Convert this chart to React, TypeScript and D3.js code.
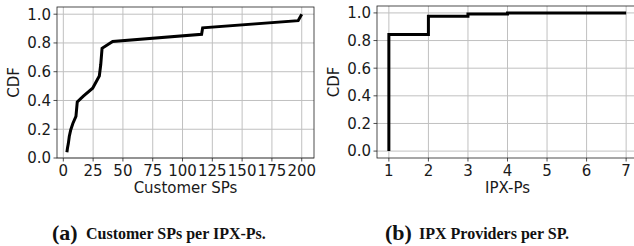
import { useEffect, useRef } from "react";
import * as d3 from "d3";

// (a) Customer SPs per IPX-P: points of the CDF curve
const spCounts = [3, 3.5, 4.2, 5, 6.2, 8, 10.6, 11.7, 16.8, 24.6, 30.2, 31.4, 32.5, 41.4, 116, 116.9, 197, 200];
const spCdf = [0.04, 0.07, 0.1, 0.15, 0.195, 0.24, 0.29, 0.39, 0.43, 0.485, 0.57, 0.65, 0.763, 0.81, 0.86, 0.905, 0.955, 1.0];
const spTicks = [0, 25, 50, 75, 100, 125, 150, 175, 200];

// (b) IPX providers per SP: step CDF
const ipxCounts = [1, 2, 3, 4, 7];
const ipxCdf = [0.843, 0.975, 0.992, 1.0, 1.0];
const ipxTicks = [1, 2, 3, 4, 5, 6, 7];

const cdfTicks = [0, 0.2, 0.4, 0.6, 0.8, 1.0];

const FONT = "DejaVu Sans, sans-serif";
const FS = 15;

type Panel = {
  left: number; right: number; top: number; bottom: number;
  xDomain: [number, number]; yDomain: [number, number];
  xTicks: number[]; xLabel: string;
  pts: [number, number][];
};

function drawPanel(svg: d3.Selection<SVGSVGElement, unknown, null, undefined>, p: Panel) {
  const x = d3.scaleLinear().domain(p.xDomain).range([p.left, p.right]);
  const y = d3.scaleLinear().domain(p.yDomain).range([p.bottom, p.top]);
  const g = svg.append("g");

  // grid
  g.selectAll("line.gx").data(p.xTicks).join("line")
    .attr("x1", (d) => x(d)).attr("x2", (d) => x(d)).attr("y1", p.top).attr("y2", p.bottom)
    .attr("stroke", "#c0c0c0").attr("stroke-width", 1);
  g.selectAll("line.gy").data(cdfTicks).join("line")
    .attr("x1", p.left).attr("x2", p.right).attr("y1", (d) => y(d)).attr("y2", (d) => y(d))
    .attr("stroke", "#c0c0c0").attr("stroke-width", 1);

  // curve
  g.append("path").datum(p.pts)
    .attr("d", d3.line<[number, number]>().x((d) => x(d[0])).y((d) => y(d[1])))
    .attr("fill", "none").attr("stroke", "#000").attr("stroke-width", 3).attr("stroke-linejoin", "miter");

  // spines
  g.append("rect").attr("x", p.left).attr("y", p.top).attr("width", p.right - p.left).attr("height", p.bottom - p.top)
    .attr("fill", "none").attr("stroke", "#222").attr("stroke-width", 0.8);

  // ticks + labels
  g.selectAll("line.tx").data(p.xTicks).join("line")
    .attr("x1", (d) => x(d)).attr("x2", (d) => x(d)).attr("y1", p.bottom).attr("y2", p.bottom + 3.5)
    .attr("stroke", "#222").attr("stroke-width", 0.8);
  g.selectAll("text.tx").data(p.xTicks).join("text")
    .attr("x", (d) => x(d)).attr("y", p.bottom + 18).attr("text-anchor", "middle")
    .attr("font-family", FONT).attr("font-size", FS).attr("fill", "#1a1a1a").text((d) => String(d));
  g.selectAll("line.ty").data(cdfTicks).join("line")
    .attr("x1", p.left - 3.5).attr("x2", p.left).attr("y1", (d) => y(d)).attr("y2", (d) => y(d))
    .attr("stroke", "#222").attr("stroke-width", 0.8);
  g.selectAll("text.ty").data(cdfTicks).join("text")
    .attr("x", p.left - 6).attr("y", (d) => y(d) + 5.4).attr("text-anchor", "end")
    .attr("font-family", FONT).attr("font-size", FS).attr("fill", "#1a1a1a").text((d) => d.toFixed(1));

  // axis labels
  g.append("text").attr("x", (p.left + p.right) / 2).attr("y", p.bottom + 35).attr("text-anchor", "middle")
    .attr("font-family", FONT).attr("font-size", FS).attr("fill", "#1a1a1a").text(p.xLabel);
  g.append("text").attr("transform", `translate(${p.left - 38},${(p.top + p.bottom) / 2}) rotate(-90)`)
    .attr("text-anchor", "middle").attr("font-family", FONT).attr("font-size", FS).attr("fill", "#1a1a1a").text("CDF");
}

export default function App() {
  const ref = useRef<SVGSVGElement>(null);

  useEffect(() => {
    const el = ref.current;
    if (!el) return;
    const svg = d3.select(el);
    svg.selectAll("*").remove();

    drawPanel(svg, {
      left: 57, right: 314, top: 7, bottom: 158,
      xDomain: [-5.3, 210.3], yDomain: [0.0, 1.05],
      xTicks: spTicks, xLabel: "Customer SPs",
      pts: spCounts.map((c, i) => [c, spCdf[i]] as [number, number]),
    });

    // step CDF for panel b, starting at 0
    const stepPts: [number, number][] = [[ipxCounts[0], 0]];
    ipxCounts.forEach((c, i) => {
      stepPts.push([c, i === 0 ? 0 : ipxCdf[i - 1]]);
      stepPts.push([c, ipxCdf[i]]);
    });
    drawPanel(svg, {
      left: 377, right: 638, top: 6, bottom: 158,
      xDomain: [0.7, 7.3], yDomain: [-0.05, 1.05],
      xTicks: ipxTicks, xLabel: "IPX-Ps",
      pts: stepPts,
    });

    // captions
    const captions = [
      { tag: "(a)", text: "Customer SPs per IPX-Ps.", x: 52, textX: 86 },
      { tag: "(b)", text: "IPX Providers per SP.", x: 385, textX: 419 },
    ];
    captions.forEach((c) => {
      svg.append("text").attr("x", c.x).attr("y", 240).attr("font-size", 22)
        .attr("font-family", "Liberation Serif, DejaVu Serif, serif").attr("font-weight", "bold")
        .attr("fill", "#111").text(c.tag);
      svg.append("text").attr("x", c.textX).attr("y", 238.5).attr("font-size", 16)
        .attr("font-family", "Liberation Serif, DejaVu Serif, serif").attr("font-weight", "bold")
        .attr("fill", "#111").text(c.text);
    });
  }, []);

  return (
    <svg ref={ref} width={634} height={246}
      style={{ position: "absolute", left: 0, top: 0, background: "#fff" }} />
  );
}
